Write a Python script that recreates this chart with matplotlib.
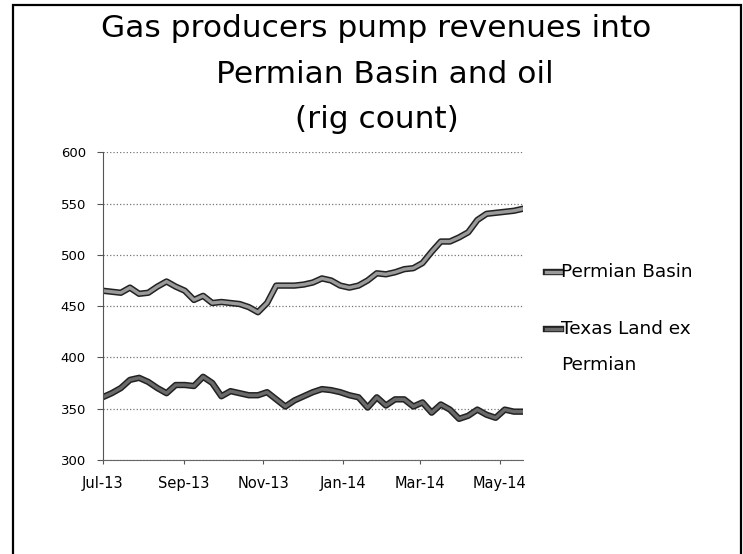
import matplotlib
matplotlib.use('Agg')
import matplotlib.pyplot as plt
import matplotlib.dates as mdates
import matplotlib.patheffects as pe
from matplotlib.lines import Line2D
from matplotlib.patches import Rectangle
import pandas as pd

plt.rcParams['font.family'] = ['DejaVu Sans']

# weekly rig counts, Jul 2013 - May 2014
dates = pd.date_range('2013-07-05', periods=47, freq='7D')
permian = [465, 464, 463, 468, 462, 463, 469, 474, 469, 465,
           456, 460, 453, 454, 453, 452, 449, 444, 453, 470,
           470, 470, 471, 473, 477, 475, 470, 468, 470, 475,
           482, 481, 483, 486, 487, 492, 503, 513, 513, 517,
           522, 534, 540, 541, 542, 543, 545]
texas = [361, 365, 370, 378, 380, 376, 370, 365, 373, 373,
         372, 381, 375, 362, 367, 365, 363, 363, 366, 359,
         352, 358, 362, 366, 369, 368, 366, 363, 361, 351,
         361, 353, 359, 359, 352, 356, 346, 354, 349, 340,
         343, 349, 344, 341, 349, 347, 347]
tick_dates = pd.to_datetime(['2013-07-05', '2013-09-05', '2013-11-05',
                             '2014-01-05', '2014-03-05', '2014-05-05'])

fig = plt.figure(figsize=(7.43, 5.54), dpi=100)
ax = fig.add_axes([0.138, 0.170, 0.566, 0.555])

outline = [pe.Stroke(linewidth=4.6, foreground='#222222'), pe.Normal()]
styles = [(permian, '#9a9a9a', 'Permian Basin'),
          (texas, '#6a6a6a', 'Texas Land ex\nPermian')]
for vals, col, name in styles:
    ax.plot(dates, vals, color=col, lw=2.4, solid_joinstyle='round', path_effects=outline)

ax.set_ylim(300, 600)
ax.set_yticks(range(300, 601, 50))
ax.set_xlim(dates[0], dates[-1])
ax.set_xticks(tick_dates)
ax.xaxis.set_major_formatter(mdates.DateFormatter('%b-%y'))
ax.tick_params(axis='y', labelsize=9.5, length=4, color='#555555', pad=8)
ax.tick_params(axis='x', labelsize=10.5, length=3, color='#555555', pad=9)
ax.grid(axis='y', color='#777777', linestyle=':', linewidth=0.9)
for s in ['top', 'right']:
    ax.spines[s].set_visible(False)
ax.spines['left'].set_color('#555555')
ax.spines['left'].set_linewidth(0.8)
ax.spines['bottom'].set_color('#666666')
ax.spines['bottom'].set_linestyle((0, (3, 1)))
ax.spines['bottom'].set_linewidth(0.8)

# title
fig.text(0.506, 0.933, 'Gas producers pump revenues into', ha='center', va='baseline', fontsize=22.5)
fig.text(0.518, 0.850, 'Permian Basin and oil', ha='center', va='baseline', fontsize=22.5)
fig.text(0.507, 0.769, '(rig count)', ha='center', va='baseline', fontsize=22.5)

# legend, right of the plot
for (vals, col, name), ly in zip(styles, [0.509, 0.406]):
    fig.add_artist(Line2D([0.735, 0.755], [ly, ly], color=col, lw=2.4, path_effects=outline))
    first, *rest = name.split('\n')
    fig.text(0.755, ly, first, ha='left', va='center', fontsize=13.3)
    for k, line in enumerate(rest):
        fig.text(0.755, ly - 0.064 * (k + 1), line, ha='left', va='center', fontsize=13.3)

# frame around the chart
fig.add_artist(Rectangle((0.017, -0.05), 0.980, 1.041, transform=fig.transFigure,
                         fill=False, edgecolor='black', lw=1.6))

fig.savefig('out.png', dpi=100)
